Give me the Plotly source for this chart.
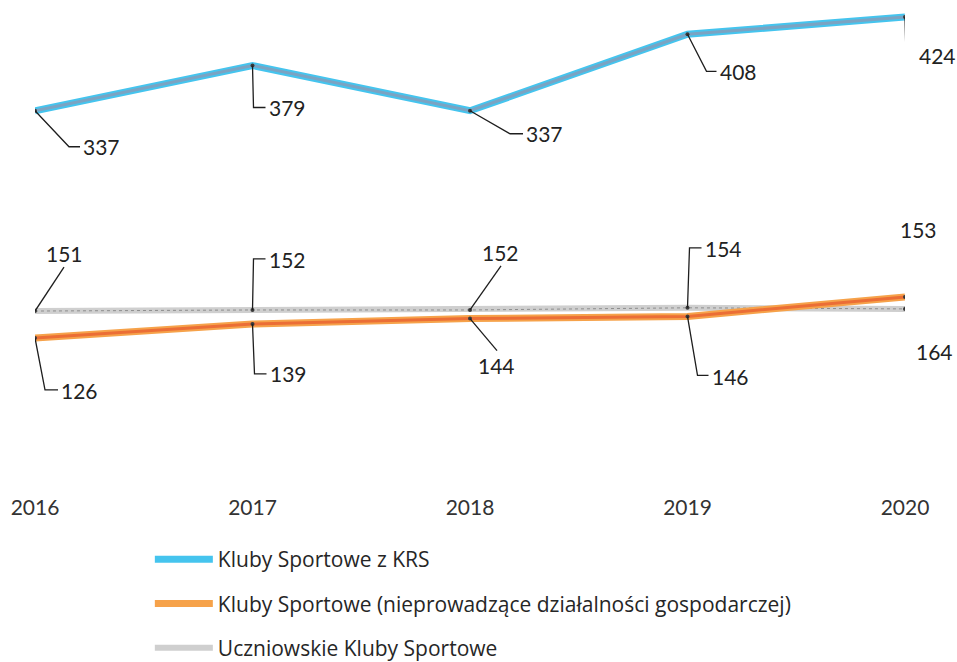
import plotly.graph_objects as go

# dane
lata = [2016, 2017, 2018, 2019, 2020]
kluby_krs = [337, 379, 337, 408, 424]
kluby_nieprow = [126, 139, 144, 146, 164]
kluby_uczniowskie = [151, 152, 152, 154, 153]

nazwy = ["Kluby Sportowe z KRS",
         "Kluby Sportowe (nieprowadzące działalności gospodarczej)",
         "Uczniowskie Kluby Sportowe"]

# przesuniecia etykiet w pikselach ekranu (dx, dy w dol)
krs_linie = [[(34, 36), (45, 36)], [(1, 42), (13, 42)], [(40, 23), (53, 23)],
             [(19, 37), (29, 37)], [(1, 38), (12, 38)]]
krs_tekst = [(47, 36, 'left'), (15, 42, 'left'), (55, 23, 'left'),
             (31, 37, 'left'), (13, 38, 'left')]
uks_linie = [[(29, -44)], [(1, -51), (13, -51)], [(31, -44)],
             [(2, -60), (14, -60)], [(15, -65)]]
uks_tekst = [(29, -58, 'center'), (15, -50, 'left'), (30, -57, 'center'),
             (16, -59, 'left'), (13, -79, 'center')]
np_linie = [[(10, 52), (23, 52)], [(2, 50), (14, 50)], [(27, 32)],
            [(10, 59), (21, 59)], [(28, 38)]]
np_tekst = [(25, 53, 'left'), (16, 50, 'left'), (26, 47, 'center'),
            (23, 60, 'left'), (29, 54, 'center')]

FONT = "Lato"
fig = go.Figure()

serie = [
    (kluby_krs, nazwy[0], '#45C4EE', '#7BA3C2', 7, 3, 'solid', krs_linie, krs_tekst),
    (kluby_nieprow, nazwy[1], '#F6A24A', '#EB6E36', 7, 3, 'solid', np_linie, np_tekst),
    (kluby_uczniowskie, nazwy[2], '#CFCFCF', '#8E8E8E', 6, 1, 'dot', uks_linie, uks_tekst),
]

# rysowanie od najnizszej warstwy
for i, (vals, name, c_out, c_in, w_out, w_in, dash, _, _) in enumerate(serie[::-1]):
    fig.add_trace(go.Scatter(x=lata, y=vals, mode='lines', name=name,
                             legendgroup=name, legendrank=3 - i,
                             line=dict(color=c_out, width=w_out)))
    fig.add_trace(go.Scatter(x=lata, y=vals, mode='lines+markers', showlegend=False,
                             legendgroup=name, hoverinfo='skip',
                             line=dict(color=c_in, width=w_in, dash=dash),
                             marker=dict(size=4, color='#3a3a3a')))

# etykiety danych z liniami odniesienia
for vals, _, _, _, _, _, _, linie, teksty in serie:
    for x, y, pts, (tx, ty, anchor) in zip(lata, vals, linie, teksty):
        path = "M0,0" + "".join(f" L{dx},{-dy}" for dx, dy in pts)
        fig.add_shape(type='path', xref='x', yref='y', xsizemode='pixel',
                      ysizemode='pixel', xanchor=x, yanchor=y, path=path,
                      line=dict(color='#1e1e1e', width=1.3))
        fig.add_annotation(x=x, y=y, text=str(y), showarrow=False,
                           xanchor=anchor, yanchor='middle',
                           xshift=tx, yshift=-ty, borderpad=0,
                           font=dict(family=FONT, size=21, color='#222222'))

# figura troche wyzsza niz okno (662), dol legendy i tak jest niewidoczny
fig.update_layout(
    width=957, height=680,
    margin=dict(l=35, r=52, t=8, b=4),
    paper_bgcolor='white', plot_bgcolor='white',
    font=dict(family=FONT, color='#262626'),
    showlegend=True,
    legend=dict(orientation='v', x=0.132, xanchor='left', y=0.205, yanchor='top',
                font=dict(family="Open Sans", size=21, color='#262626'),
                itemwidth=58, tracegroupgap=14, traceorder='grouped'),
    xaxis=dict(range=[2016, 2020], tickvals=lata, ticktext=[str(r) for r in lata],
               showgrid=False, zeroline=False, showline=False, ticks='',
               ticklabelstandoff=3,
               tickfont=dict(family=FONT, size=21, color='#333333')),
    yaxis=dict(range=[-15.2, 432.4], domain=[0.2784, 1], visible=False),
)

# bez marginesu body, zeby figura miescila sie w oknie
fig.write_html("out.html", config={'displayModeBar': False},
               post_script="document.body.style.margin='0';document.body.style.overflow='hidden';")
